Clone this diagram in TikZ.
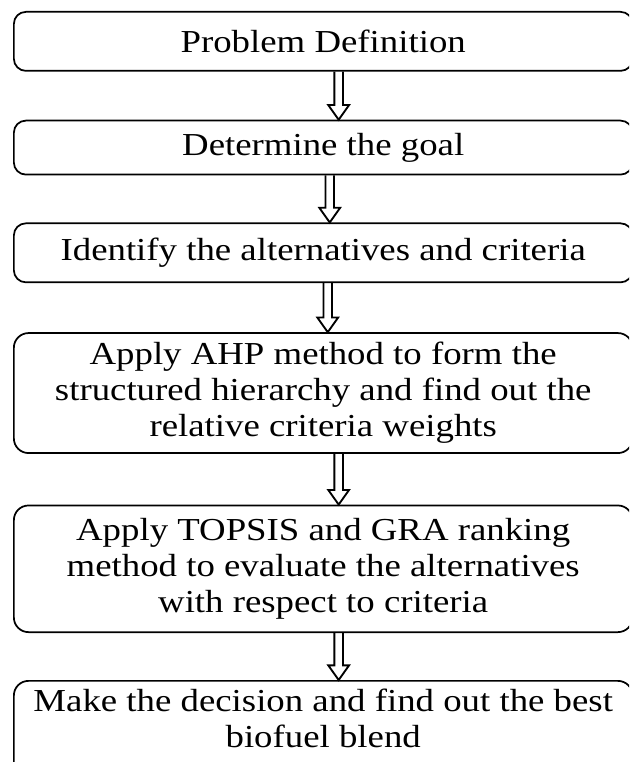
\documentclass[tikz,border=0pt]{standalone}
\usepackage{fontspec}
\setmainfont{Liberation Serif}[FakeStretch=1.15]
\usepackage{tikz}
\usetikzlibrary{calc}
\usetikzlibrary{positioning}
\newcommand{\HollowArrowBetween}[3]{
	\draw[line width=\ArrowLineWidth, line join=miter] ([xshift=#3-\ShaftHalf]#1.south) -- ([xshift=#3-\ShaftHalf, yshift=\HeadLength]#2.north) -- ([xshift=#3-\HeadHalf, yshift=\HeadLength]#2.north) -- ([xshift=#3]#2.north) -- ([xshift=#3+\HeadHalf, yshift=\HeadLength]#2.north) -- ([xshift=#3+\ShaftHalf, yshift=\HeadLength]#2.north) -- ([xshift=#3+\ShaftHalf]#1.south);
}

\begin{document}
\begin{tikzpicture}[
	stepbox/.style={draw, line width=1.3pt, rounded corners=9pt, minimum width=464pt, inner sep=0pt, align=center, font=\fontsize{24pt}{27pt}\selectfont}
	]
	\def\ShaftHalf{3.2pt}
	\def\HeadHalf{7.8pt}
	\def\HeadLength{11pt}
	\def\ArrowLineWidth{1.4pt}
	%%%%%%%%%%%%%%%%%%%%%%%%%%%%%%%%%%%%%%%%%%%%%%%%%%%%%%%%%%
	\useasboundingbox (0,0) rectangle (471.75pt,-571.5pt);
	\clip (0,0) rectangle (471.75pt,-571.5pt);
	
	% steps
	\node[stepbox, anchor=north west, minimum height=44.25pt] (problem) at (9.75pt,-8.25pt) {Problem Definition};
	\node[stepbox, below=36pt of problem, minimum height=40.5pt] (goal) {Determine the goal};
	\node[stepbox, below=35.25pt of goal, minimum height=44.25pt] (identify) {Identify the alternatives and criteria};
	\node[stepbox, below=36.75pt of identify, minimum height=90pt, rounded corners=11pt] (ahp) {Apply AHP method to form the\\structured hierarchy and find out the\\relative criteria weights};
	\node[stepbox, below=38pt of ahp, minimum height=95pt, rounded corners=11pt] (topsis) {Apply TOPSIS and GRA ranking\\method to evaluate the alternatives\\with respect to criteria};
	% last step runs off the bottom edge, text sits high
	\node[stepbox, below=35.25pt of topsis, minimum height=72pt, text depth=16pt, rounded corners=11pt] (decision) {Make the decision and find out the best\\biofuel blend};
	
	% arrows between steps
	\HollowArrowBetween{problem}{goal}{11.6pt}
	\HollowArrowBetween{goal}{identify}{4.9pt}
	\HollowArrowBetween{identify}{ahp}{3.4pt}
	\HollowArrowBetween{ahp}{topsis}{11.6pt}
	\HollowArrowBetween{topsis}{decision}{11.6pt}
	
\end{tikzpicture}
\end{document}
